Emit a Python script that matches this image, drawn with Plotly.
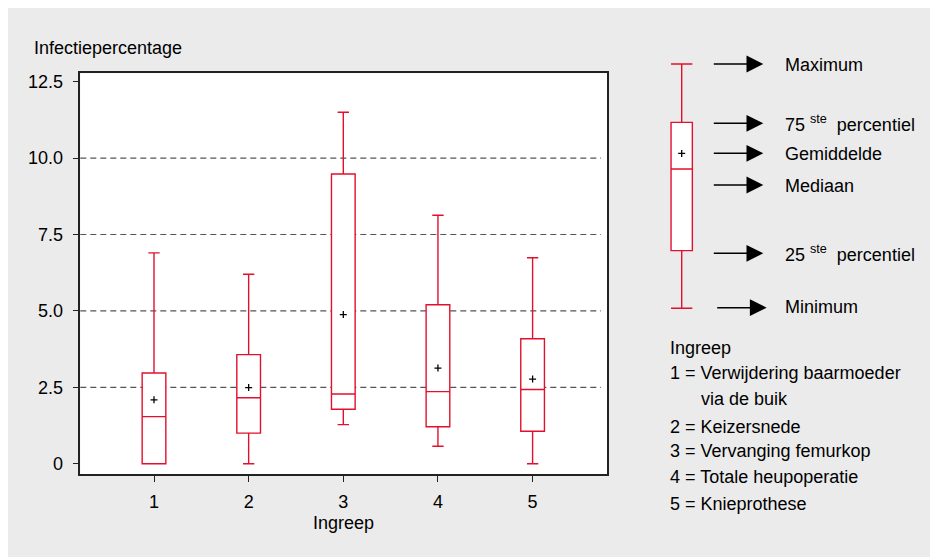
import plotly.graph_objects as go

W, H = 938, 557

# ---- data ----
categories = [1, 2, 3, 4, 5]
minimum = [0.0, 0.0, 1.28, 0.57, 0.0]
q1 = [0.0, 1.0, 1.78, 1.21, 1.06]
median = [1.54, 2.16, 2.28, 2.36, 2.43]
q3 = [2.97, 3.57, 9.48, 5.20, 4.09]
maximum = [6.9, 6.2, 11.5, 8.13, 6.74]
mean = [2.09, 2.49, 4.88, 3.13, 2.77]

y_ticks = [0, 2.5, 5.0, 7.5, 10.0, 12.5]
y_tick_labels = ["0", "2.5", "5.0", "7.5", "10.0", "12.5"]
grid_values = [2.5, 5.0, 7.5, 10.0]

# explanatory key box (illustrative values)
key_min = [0.0]
key_q1 = [2.36]
key_median = [5.70]
key_q3 = [7.61]
key_max = [10.0]
key_mean = [6.34]
key_labels = ["Maximum", "75\u00a0<sup>ste</sup>\u00a0\u00a0percentiel", "Gemiddelde",
              "Mediaan", "25\u00a0<sup>ste</sup>\u00a0\u00a0percentiel", "Minimum"]

procedure_lines = ["Ingreep", "1 = Verwijdering baarmoeder", "via de buik",
                   "2 = Keizersnede", "3 = Vervanging femurkop",
                   "4 = Totale heupoperatie", "5 = Knieprothese"]

y_title = "Infectiepercentage"
x_title = "Ingreep"

# ---- styles ----
RED = "#e2102e"
FONT = "Liberation Sans, Arial, sans-serif"
TXT = "#000000"
OFF = 8  # page body margin


def px(x):
    return (x - OFF) / W


def py(y):
    return 1 - (y - OFF) / H


fig = go.Figure()

fig.add_trace(go.Box(
    x=categories, q1=q1, median=median, q3=q3,
    lowerfence=minimum, upperfence=maximum,
    width=0.25, whiskerwidth=0.48,
    line=dict(color=RED, width=1.4), fillcolor="white",
    boxpoints=False, showlegend=False, hoverinfo="skip",
    xaxis="x", yaxis="y"))

fig.add_trace(go.Scatter(
    x=categories, y=mean, mode="markers",
    marker=dict(symbol="cross-thin", size=5, line=dict(color="black", width=1.3)),
    showlegend=False, hoverinfo="skip", xaxis="x", yaxis="y"))

# key box
fig.add_trace(go.Box(
    x=[0], q1=key_q1, median=key_median, q3=key_q3,
    lowerfence=key_min, upperfence=key_max,
    width=1, whiskerwidth=1,
    line=dict(color=RED, width=1.4), fillcolor="white",
    boxpoints=False, showlegend=False, hoverinfo="skip",
    xaxis="x2", yaxis="y2"))
fig.add_trace(go.Scatter(
    x=[0], y=key_mean, mode="markers",
    marker=dict(symbol="cross-thin", size=5, line=dict(color="black", width=1.3)),
    showlegend=False, hoverinfo="skip", xaxis="x2", yaxis="y2"))

shapes = [
    dict(type="rect", xref="paper", yref="paper", x0=px(6), x1=px(950), y0=py(570), y1=py(7),
         fillcolor="#ebebeb", line=dict(width=0), layer="below"),
    dict(type="rect", xref="paper", yref="paper", x0=px(80.3), x1=px(607), y0=py(474.3), y1=py(73.3),
         fillcolor="white", line=dict(width=0), layer="below"),
]
for g in grid_values:
    shapes.append(dict(type="line", xref="x domain", yref="y", x0=0, x1=0.9886, y0=g, y1=g,
                       line=dict(color="#555555", width=1.2, dash="6px,4px"), layer="below"))

annotations = []
arrow_y = [64, 123.3, 153.3, 185, 253.3, 307.7]
arrow_tip = [763.3, 763.3, 763.3, 763.3, 763.3, 766.7]
label_y = [65, 123.3, 154, 185.7, 253.3, 306.7]
for i, lab in enumerate(key_labels):
    annotations.append(dict(xref="paper", yref="paper", x=px(arrow_tip[i]), y=py(arrow_y[i]),
                            ax=-51, ay=0, text="", showarrow=True, arrowhead=2,
                            arrowsize=2.4, arrowwidth=1.4, arrowcolor="black"))
    annotations.append(dict(xref="paper", yref="paper", x=px(783.3), y=py(label_y[i]),
                            xanchor="left", yanchor="middle", text=lab, showarrow=False,
                            font=dict(family=FONT, size=18, color=TXT)))

proc_y = [348, 373.3, 399, 426.7, 450.7, 476.7, 504]
proc_x = [668.3, 668.3, 699.3, 668.3, 668.3, 668.3, 668.3]
for i, line in enumerate(procedure_lines):
    annotations.append(dict(xref="paper", yref="paper", x=px(proc_x[i]), y=py(proc_y[i]),
                            xanchor="left", yanchor="middle", text=line, showarrow=False,
                            font=dict(family=FONT, size=18, color=TXT)))

annotations.append(dict(xref="paper", yref="paper", x=px(32), y=py(47.7), xanchor="left",
                        yanchor="middle", text=y_title, showarrow=False,
                        font=dict(family=FONT, size=18, color=TXT)))
annotations.append(dict(xref="paper", yref="paper", x=px(343.6), y=py(523), xanchor="center",
                        yanchor="middle", text=x_title, showarrow=False,
                        font=dict(family=FONT, size=18, color=TXT)))

fig.update_layout(
    width=W, height=H,
    margin=dict(l=0, r=0, t=0, b=0),
    paper_bgcolor="white", plot_bgcolor="rgba(0,0,0,0)",
    font=dict(family=FONT, size=18, color=TXT),
    showlegend=False,
    shapes=shapes, annotations=annotations,
    xaxis=dict(domain=[px(80.3), px(607)], range=[0.2213, 5.786],
               tickmode="array", tickvals=categories, ticktext=[str(c) for c in categories],
               ticks="outside", ticklen=6, tickwidth=1.2, tickcolor="#222",
               showline=True, mirror=True, linecolor="#222", linewidth=1.5,
               showgrid=False, zeroline=False, anchor="y", fixedrange=True,
               ticklabelstandoff=4),
    yaxis=dict(domain=[py(474.3), py(73.3)], range=[-0.347, 12.775],
               tickmode="array", tickvals=y_ticks, ticktext=y_tick_labels,
               ticks="outside", ticklen=6, tickwidth=1.2, tickcolor="#222",
               showline=True, mirror=True, linecolor="#222", linewidth=1.5,
               showgrid=False, zeroline=False, anchor="x", fixedrange=True,
               ticklabelstandoff=6),
    xaxis2=dict(domain=[px(660.4), px(703)], range=[-1, 1], visible=False, anchor="y2",
                fixedrange=True),
    yaxis2=dict(domain=[py(332.7), py(39.6)], range=[-1, 11], visible=False, anchor="x2",
                fixedrange=True),
)

fig.write_html("out.html")
